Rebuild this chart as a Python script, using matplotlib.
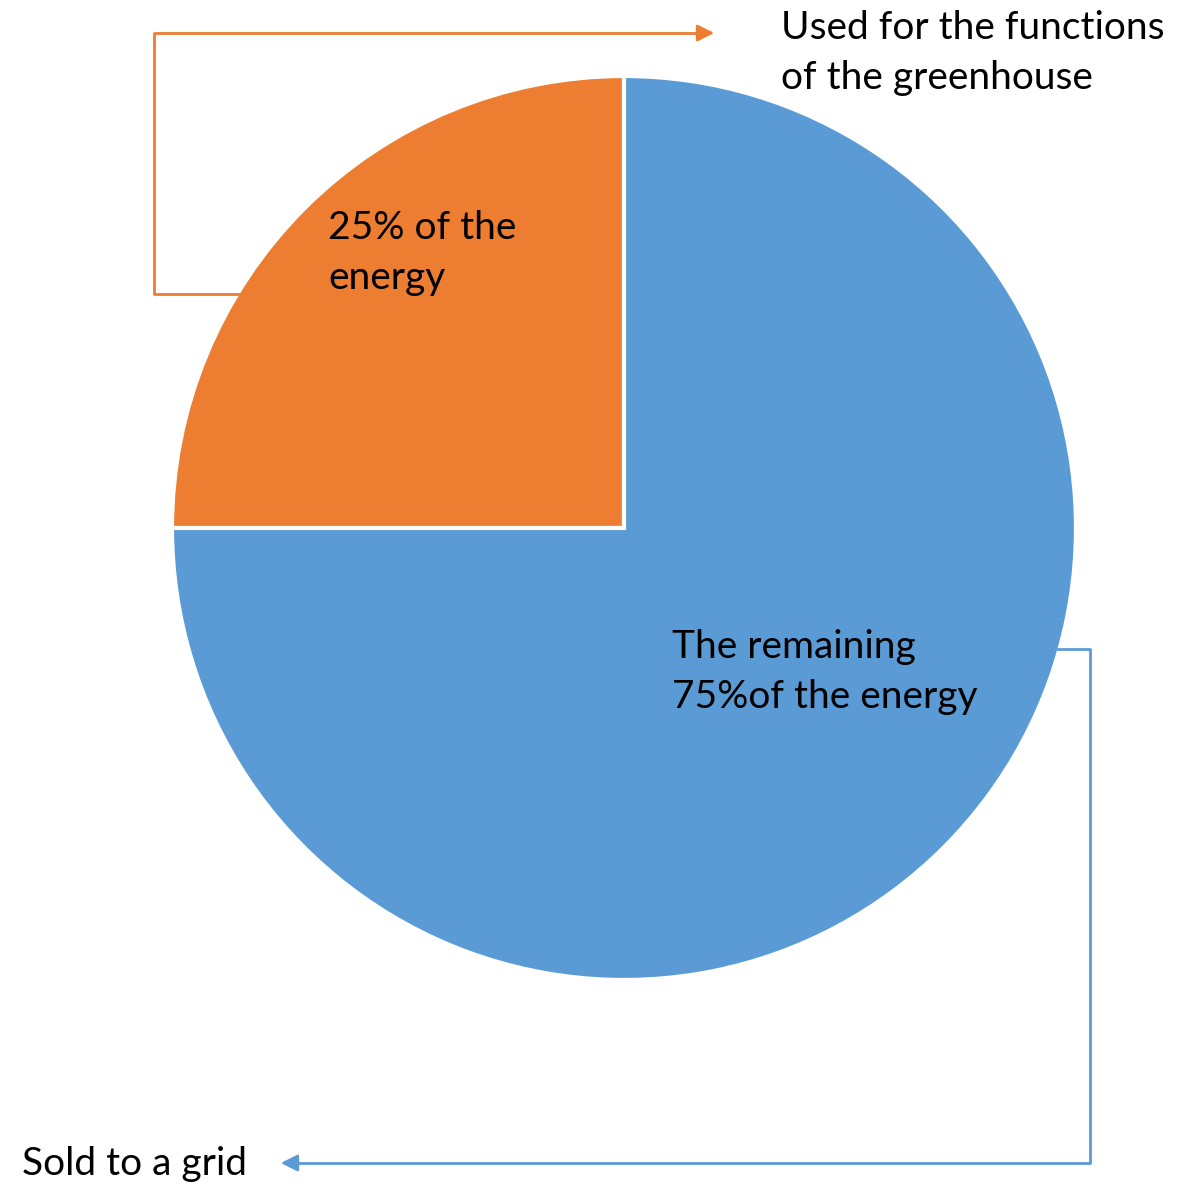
import matplotlib.pyplot as plt

plt.rcParams['font.family'] = ['Lato', 'DejaVu Sans']

shares = [25, 75]
colors = ['#ED7D31', '#5B9BD5']
slice_labels = ['25% of the\nenergy', 'The remaining\n75%of the energy']
callouts = ['Used for the functions\nof the greenhouse', 'Sold to a grid']

W, H = 1195, 1184
fig = plt.figure(figsize=(W / 100, H / 100), dpi=100)
ax = fig.add_axes([0, 0, 1, 1])

# pie in pixel coords (y axis flipped, so go clockwise to fill top-left first)
ax.pie(shares, colors=colors, center=(624, 528), radius=452, startangle=-90,
       counterclock=False, wedgeprops=dict(edgecolor='white', linewidth=3),
       frame=True)
ax.set_xlim(0, W)
ax.set_ylim(H, 0)
ax.set_aspect('equal')
ax.axis('off')

fs = 28
ls = 1.5
ax.text(328, 253, slice_labels[0], fontsize=fs, ha='left', va='center', linespacing=ls)
ax.text(672, 672, slice_labels[1], fontsize=fs, ha='left', va='center', linespacing=ls)
ax.text(781, 53, callouts[0], fontsize=fs, ha='left', va='center', linespacing=ls)
ax.text(22, 1164, callouts[1], fontsize=fs, ha='left', va='center')

# elbow connectors
ax.plot([243, 154, 154, 700], [294, 294, 33, 33], color=colors[0], lw=2)
ax.annotate('', xy=(717, 33), xytext=(698, 33),
            arrowprops=dict(arrowstyle='-|>,head_length=1.0,head_width=0.5',
                            color=colors[0], lw=2))
ax.plot([1058, 1090, 1090, 296], [649, 649, 1163, 1163], color=colors[1], lw=2)
ax.annotate('', xy=(278, 1163), xytext=(297, 1163),
            arrowprops=dict(arrowstyle='-|>,head_length=1.0,head_width=0.5',
                            color=colors[1], lw=2))

plt.savefig('out.png', dpi=100)
